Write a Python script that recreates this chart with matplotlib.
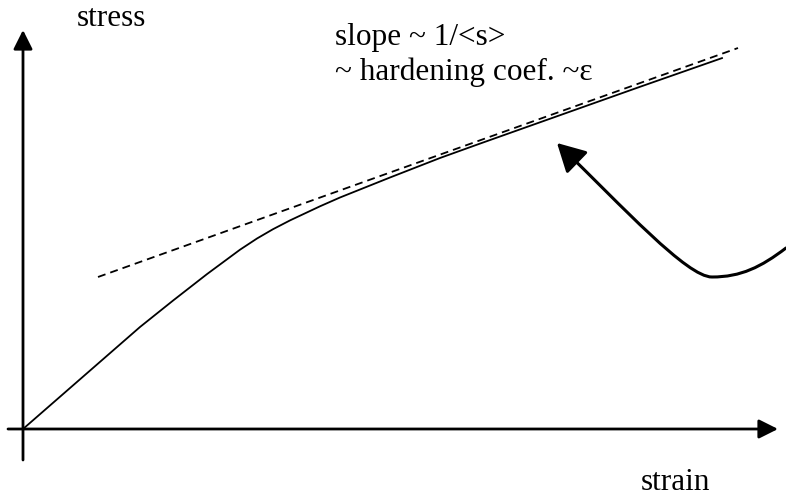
import matplotlib
matplotlib.use("Agg")
import matplotlib.pyplot as plt
from matplotlib.patches import FancyArrowPatch
from matplotlib.path import Path

# Stress-strain curve (arbitrary units, origin at axes crossing)
strain = [0, 117, 150, 184, 217, 234, 250, 267, 297, 317, 367, 417, 457, 537, 617, 699]
stress = [0, 102, 128.4, 154.9, 179.3, 190.5, 199.8, 208.6, 222.7, 231.5, 251.5, 271, 285.4, 313.8, 342.2, 370.9]

# Tangent (dashed) line
tangent_strain = [75, 715]
tangent_stress = [152, 381]

# Axis extents
x_axis = [-15, 755]
y_axis = [-31, 399]

# Labels
ylabel_text = "stress"
xlabel_text = "strain"
note_lines = ["slope ~ 1/<s>", "~ hardening coef. ~\u03b5"]

plt.rcParams['font.family'] = ['Liberation Serif', 'DejaVu Serif']

fig = plt.figure(figsize=(7.86, 4.97), dpi=100)
ax = fig.add_axes([0, 0, 1, 1])
ax.set_xlim(-23, 763)
ax.set_ylim(-68, 429)
ax.axis('off')

# Axes arrows
ax.add_patch(FancyArrowPatch((x_axis[0], 0), (x_axis[1], 0), arrowstyle='-|>',
                             mutation_scale=29, lw=2, color='k',
                             shrinkA=0, shrinkB=0))
ax.add_patch(FancyArrowPatch((0, y_axis[0]), (0, y_axis[1]), arrowstyle='-|>',
                             mutation_scale=29, lw=2, color='k',
                             shrinkA=0, shrinkB=0))

# Curve and tangent
ax.plot(strain, stress, color='k', lw=1.3, solid_joinstyle='round')
ax.plot(tangent_strain, tangent_stress, color='k', lw=1.3,
        linestyle=(0, (4.4, 2.8)))

# Curved pointer arrow
verts = [(763, 181), (738, 162), (718, 152), (689, 152),
         (664, 152), (600, 222), (534, 286)]
codes = [Path.MOVETO, Path.CURVE4, Path.CURVE4, Path.CURVE4,
         Path.CURVE4, Path.CURVE4, Path.CURVE4]
ax.add_patch(FancyArrowPatch(path=Path(verts, codes),
                             arrowstyle='-|>,head_length=1.73,head_width=0.94',
                             mutation_scale=10, lw=2.2, color='k'))

# Text
fs = 22.5
ax.text(54, 403, ylabel_text, fontsize=fs, va='baseline', ha='left')
ax.text(618, -61, xlabel_text, fontsize=fs, va='baseline', ha='left')
ax.text(312, 384, note_lines[0], fontsize=fs, va='baseline', ha='left')
ax.text(312, 349, note_lines[1], fontsize=fs, va='baseline', ha='left')

fig.savefig("out.png", dpi=100)
